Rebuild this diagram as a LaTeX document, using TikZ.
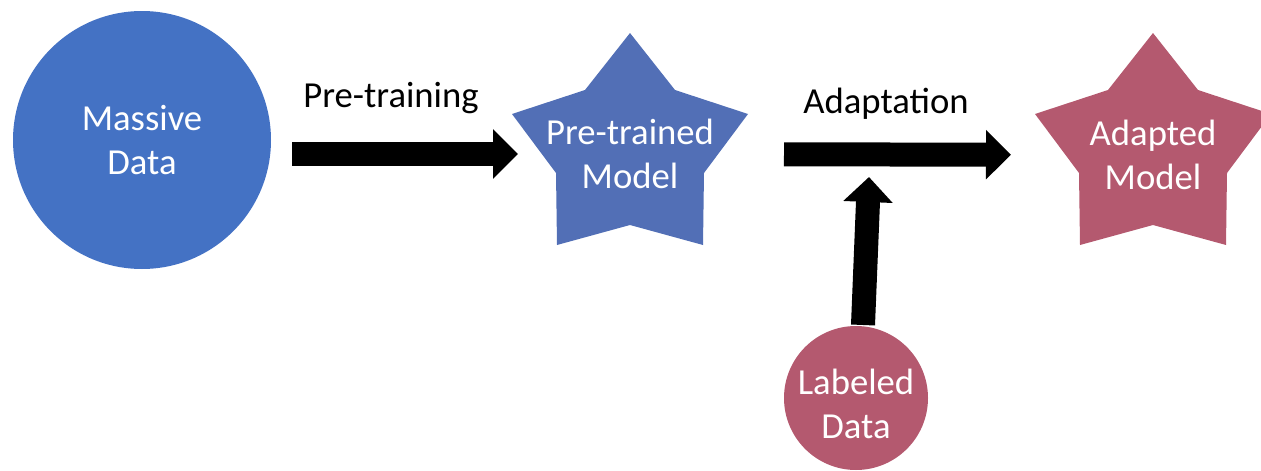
\documentclass[tikz,border=0pt]{standalone}
\usepackage{fontspec}
\setmainfont{Carlito}
\usetikzlibrary{arrows.meta}

\definecolor{dataBlue}{HTML}{4472C4}
\definecolor{modelBlue}{HTML}{526FB6}
\definecolor{roseRed}{HTML}{B4596F}

\tikzset{
  blob/.style={circle, fill=#1, inner sep=0pt, text=white, align=center,
    font=\fontsize{27.5}{33}\selectfont},
  starlabel/.style={text=white, align=center, inner sep=0pt,
    font=\fontsize{27.5}{33}\selectfont},
  caption/.style={anchor=base, inner sep=0pt, font=\fontsize{27.5}{33}\selectfont},
  bigarrow/.style={line width=18pt, line cap=butt,
    -{Triangle[length=18.75pt, width=36pt]}},
  pics/fivestar/.style={code={
    \fill[#1] (0,33) -- (45,90) -- (118,114) -- (74,173) -- (73,245)
      -- (0,225) -- (-73,245) -- (-74,173) -- (-118,114) -- (-45,90) -- cycle;
  }}
}

\begin{document}
\begin{tikzpicture}[x=0.75pt, y=-0.75pt]
  \useasboundingbox (0,0) rectangle (1261,471);
  \clip (0,0) rectangle (1261,471);

  % source data
  \node[blob=dataBlue, minimum size=193.5pt] (massive) at (142,140) {Massive\\Data};

  % models
  \pic at (630,0) {fivestar=modelBlue};
  \node[starlabel] (pre) at (630,154) {Pre-trained\\Model};
  \pic at (1153,0) {fivestar=roseRed};
  \node[starlabel] (adapted) at (1153,155) {Adapted\\Model};

  % task data: disc with its text set a little below the centre
  \node[blob=roseRed, minimum size=108pt] (labeled) at (856,398) {};
  \node[starlabel] (labeledtext) at (856,404) {Labeled\\Data};

  % stage labels
  \node[caption] (ptlabel) at (391,107) {Pre-training};
  \node[caption] (adlabel) at (886,113) {Adaptation};

  % flow arrows (shortened from the centres of the shapes)
  \draw[bigarrow, shorten <=15.75pt, shorten >=84pt] (massive.east |- pre.center) -- (pre.center);
  \draw[bigarrow, shorten <=115.5pt, shorten >=106.5pt] (pre.center) -- (adapted.center);
  \coordinate (lift) at (863,325);
  \coordinate (feed) at (869,177);
  \draw[bigarrow] (lift) -- (feed);
\end{tikzpicture}
\end{document}
